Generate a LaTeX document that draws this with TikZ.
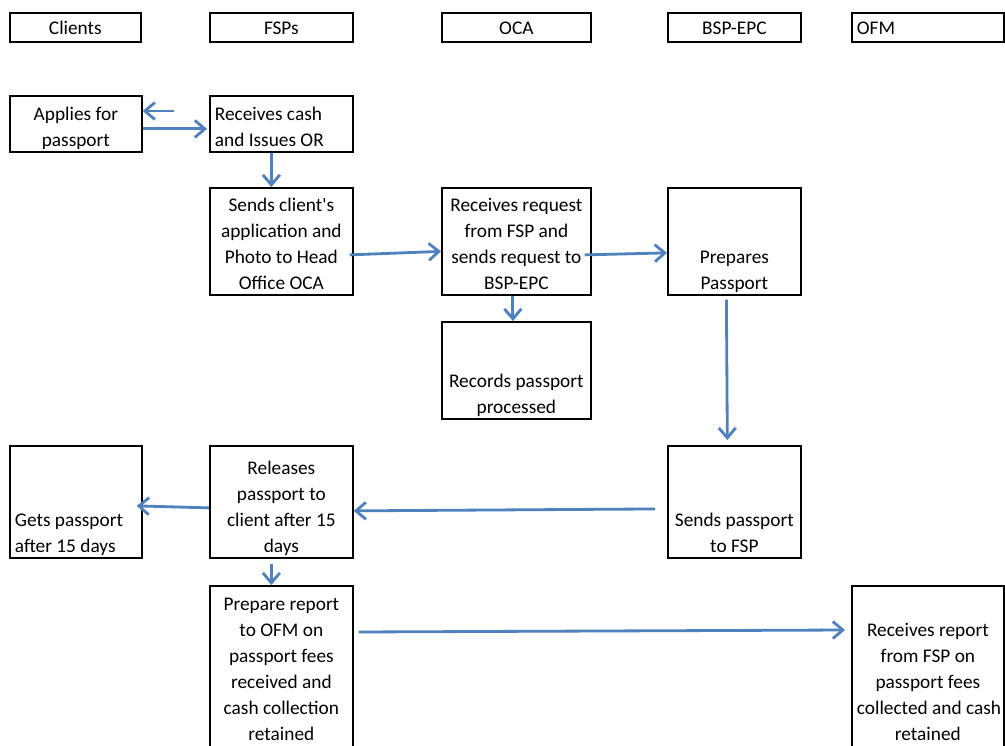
\documentclass[tikz,border=0pt]{standalone}
\usepackage{fontspec}
\setmainfont{Carlito}
\usetikzlibrary{arrows.meta}
\definecolor{flowblue}{RGB}{79,129,189}
% text inside a box: [#1] = space on top, #2 = t/c/b, #3 = height, #4 = width
\newcommand{\cell}[5][0pt]{\parbox[c][#3][#2]{#4}{\vspace*{#1}\centering\strut #5\strut\par\vspace*{-0.04cm}}}

\begin{document}
\begin{tikzpicture}[
    x=0.02cm, y=-0.02cm,
    box/.style={rectangle, draw, line width=1pt, inner sep=0pt, anchor=north west,
      font=\fontsize{11}{14.8}\selectfont},
    flow/.style={-{Straight Barb[length=2mm, width=3.4mm]}, line width=1.6pt, flowblue}
]
    \useasboundingbox[fill=white] (0,0) rectangle (1005,745);

    % Column heads
    \node[box, minimum width=2.62cm, minimum height=0.58cm] (hclients) at (9,12) {\cell[0.04cm]{c}{0.58cm}{2.42cm}{Clients}};
    \node[box, minimum width=2.86cm, minimum height=0.58cm] (hfsp) at (209,12) {\cell[0.04cm]{c}{0.58cm}{2.66cm}{FSPs}};
    \node[box, minimum width=2.98cm, minimum height=0.58cm] (hoca) at (441,12) {\cell[0.04cm]{c}{0.58cm}{2.78cm}{OCA}};
    \node[box, minimum width=2.66cm, minimum height=0.58cm] (hbsp) at (667,12) {\cell[0.04cm]{c}{0.58cm}{2.46cm}{BSP-EPC}};
    \node[box, minimum width=3.04cm, minimum height=0.58cm] (hofm) at (851,12) {\cell[0.04cm]{c}{0.58cm}{2.84cm}{\raggedright OFM}};

    % Application
    \node[box, minimum width=2.64cm, minimum height=1.12cm] (apply) at (9,95) {\cell[0.14cm]{c}{1.12cm}{2.44cm}{Applies for\\passport}};
    \node[box, minimum width=2.86cm, minimum height=1.12cm] (cash) at (209,95) {\cell[0.14cm]{c}{1.12cm}{2.66cm}{\raggedright Receives cash\\and Issues OR}};
    \node[box, minimum width=2.86cm, minimum height=2.14cm] (sendapp) at (209,187) {\cell{b}{2.14cm}{2.66cm}{Sends client\textquotesingle s\\application and\\Photo to Head\\Office OCA}};
    \node[box, minimum width=2.98cm, minimum height=2.14cm] (request) at (441,187) {\cell{b}{2.14cm}{2.78cm}{Receives request\\from FSP and\\sends request to\\BSP-EPC}};
    \node[box, minimum width=2.66cm, minimum height=2.14cm] (prepare) at (667,187) {\cell{b}{2.14cm}{2.46cm}{Prepares\\Passport}};
    \node[box, minimum width=2.98cm, minimum height=1.94cm] (records) at (441,321) {\cell{b}{1.94cm}{2.78cm}{Records passport\\processed}};

    % Release
    \node[box, minimum width=2.64cm, minimum height=2.24cm] (gets) at (9,445) {\cell{b}{2.24cm}{2.44cm}{\raggedright Gets passport\\after 15 days}};
    \node[box, minimum width=2.86cm, minimum height=2.24cm] (release) at (209,445) {\cell{b}{2.24cm}{2.66cm}{Releases\\passport to\\client after 15\\days}};
    \node[box, minimum width=2.66cm, minimum height=2.24cm] (sendpp) at (667,445) {\cell{b}{2.24cm}{2.46cm}{Sends passport\\to FSP}};

    % Report
    \node[box, minimum width=2.86cm, minimum height=3.8cm] (report) at (209,585) {\cell{t}{3.56cm}{2.66cm}{Prepare report\\to OFM on\\passport fees\\received and\\cash collection\\retained}};
    \node[box, minimum width=3.04cm, minimum height=3.8cm] (ofmrep) at (851,585) {\cell{b}{2.62cm}{2.84cm}{Receives report\\from FSP on\\passport fees\\\mbox{collected and cash}\\retained}};

    % Arrows
    \coordinate (back) at (174,111);
    \draw[flow] (back) -- (apply.east |- back);
    \draw[flow] ([yshift=-0.1cm]apply.east) -- ([yshift=-0.1cm, xshift=-0.04cm]cash.west);
    \draw[flow] ([xshift=-0.2cm]cash.south) -- ([xshift=-0.2cm]sendapp.north);
    \draw[flow] ([yshift=-0.27cm, xshift=-0.08cm]sendapp.east) -- ([yshift=-0.2cm]request.west);
    \draw[flow] ([yshift=-0.27cm, xshift=-0.14cm]request.east) -- ([yshift=-0.23cm]prepare.west);
    \draw[flow] ([xshift=-0.07cm]request.south) -- ([xshift=-0.07cm]records.north);
    \draw[flow, shorten <=0.08cm, shorten >=0.1cm] ([xshift=-0.16cm]prepare.south) -- ([xshift=-0.14cm]sendpp.north);
    \draw[flow, shorten <=0.24cm] ([yshift=-0.14cm]sendpp.west) -- ([yshift=-0.18cm]release.east);
    \draw[flow] ([yshift=-0.12cm]release.west) -- ([yshift=-0.08cm, xshift=-0.12cm]gets.east);
    \draw[flow, shorten <=0.1cm] ([xshift=-0.2cm]release.south) -- ([xshift=-0.2cm]report.north);
    \draw[flow] ([yshift=-0.94cm, xshift=0.1cm]report.north east) -- ([yshift=-0.9cm, xshift=-0.12cm]ofmrep.north west);
\end{tikzpicture}
\end{document}
